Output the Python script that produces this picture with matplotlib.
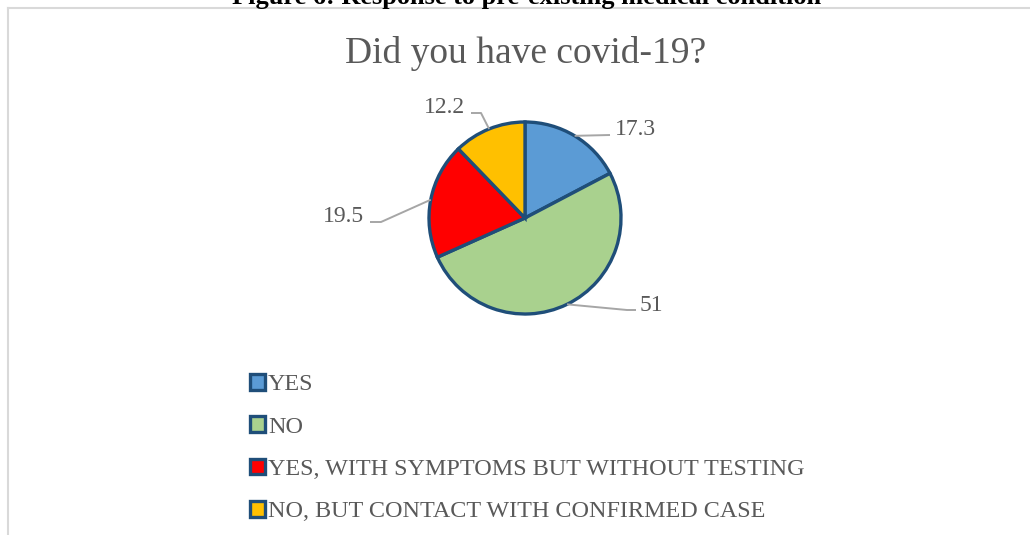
import numpy as np
import matplotlib
matplotlib.use("Agg")
import matplotlib.pyplot as plt
from matplotlib.lines import Line2D

# data
labels = ["YES", "NO", "YES, WITH SYMPTOMS BUT WITHOUT TESTING",
          "NO, BUT CONTACT WITH CONFIRMED CASE"]
values = [17.3, 51, 19.5, 12.2]
colors = ["#5B9BD5", "#A9D18E", "#FF0000", "#FFC000"]

title = "Did you have covid-19?"
caption = "Figure 6: Response to pre-existing medical condition"

plt.rcParams['font.family'] = ['Liberation Serif', 'DejaVu Serif']
grey = "#595959"

W, H = 1030, 535
fig = plt.figure(figsize=(W / 100, H / 100), dpi=100)
fig.patch.set_facecolor("white")

# pie centre / radius in pixels
cx, cy, R = 525, 218, 96


def px(x, y):
    return (x - cx) / R, (cy - y) / R


ax = fig.add_axes([0, 0, 1, 1])
wedges, _ = ax.pie(values, colors=colors, startangle=90, counterclock=False,
                   radius=1, center=(0, 0),
                   wedgeprops=dict(edgecolor="#1F4E79", linewidth=2.4))
ax.set_xlim(-cx / R, (W - cx) / R)
ax.set_ylim(-(H - cy) / R, cy / R)
ax.set_aspect("auto")
ax.axis("off")

# label layout (pixels): elbow, line end, text pos, alignment
layout = [
    ((610, 135), (610, 135), (615, 135), "left"),
    ((627, 310), (636, 310), (640, 311), "left"),
    ((381, 222), (370, 222), (364, 222), "right"),
    ((481, 113), (471, 113), (465, 113), "right"),
]
for w, v, (elb, end, tp, ha) in zip(wedges, values, layout):
    mid = np.deg2rad((w.theta1 + w.theta2) / 2)
    ax_, ay_ = np.cos(mid), np.sin(mid)
    e1, e2 = px(*elb), px(*end)
    ax.plot([ax_, e1[0], e2[0]], [ay_, e1[1], e2[1]], color="#A6A6A6",
            lw=1.4, solid_capstyle="butt")
    t = px(*tp)
    ax.text(t[0], t[1], f"{v:g}", ha=ha, va="baseline", fontsize=17, color=grey)

# title and caption (caption is cut at the top edge, as in the source)
fig.text(526 / W, 1 - 63 / H, title, ha="center", va="baseline",
         fontsize=27, color=grey)
fig.text(527 / W, 1 - 4 / H, caption, ha="center", va="baseline",
         fontsize=19, fontweight="bold", color="black")

# border of chart area
fig.add_artist(Line2D([8 / W, 8 / W], [0, 1 - 8 / H], transform=fig.transFigure,
                      color="#D9D9D9", lw=1.5))
fig.add_artist(Line2D([8 / W, 1], [1 - 8 / H, 1 - 8 / H], transform=fig.transFigure,
                      color="#D9D9D9", lw=1.5))

# legend
leg = ax.legend(wedges, labels, loc="upper left",
                bbox_to_anchor=(250 / W, 1 - 374 / H), bbox_transform=fig.transFigure,
                frameon=False, fontsize=17.4, labelcolor=grey,
                handlelength=0.62, handleheight=0.62, handletextpad=0.12,
                labelspacing=0.87, borderpad=0, borderaxespad=0)

fig.savefig("out.png", dpi=100, facecolor="white")
